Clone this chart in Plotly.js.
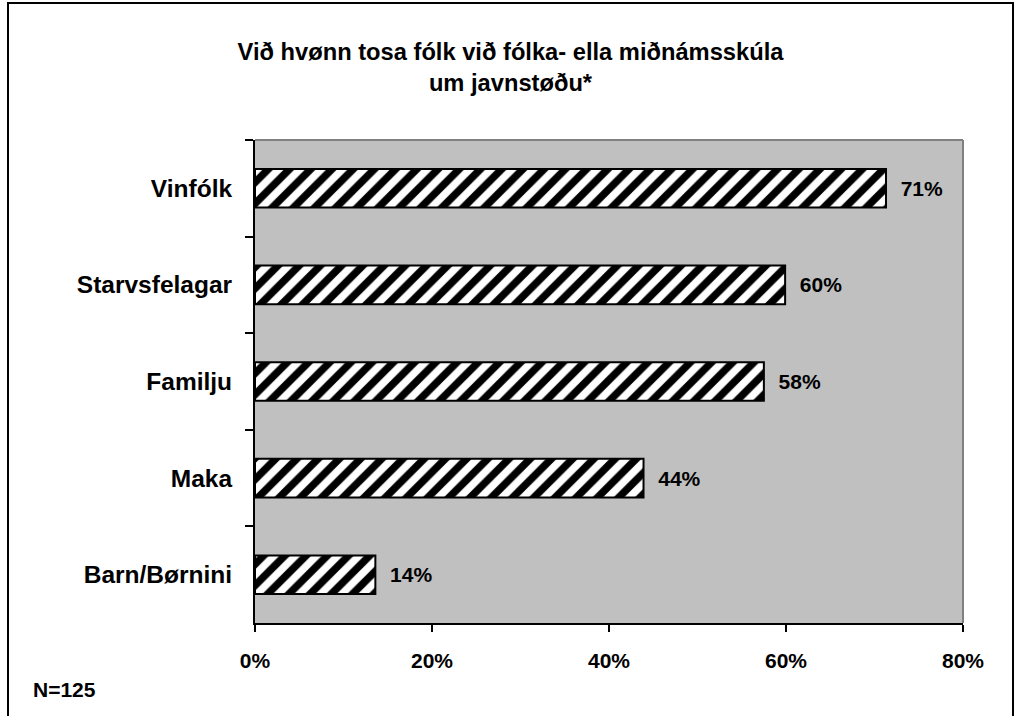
<!DOCTYPE html>
<html>
<head>
<meta charset="utf-8">
<script src="https://cdn.plot.ly/plotly-3.0.1.min.js"></script>
<style>
html,body{margin:0;padding:0;background:#fff;}
#wrap{position:relative;width:1021px;height:716px;}
#chart{width:1021px;height:716px;}
#frame{position:absolute;left:7px;top:2px;width:1003px;height:720px;border:2px solid #000;pointer-events:none;}
</style>
</head>
<body>
<div id="wrap">
<div id="chart"></div>
<div id="frame"></div>
</div>
<script>
const categories = ["Vinfólk", "Starvsfelagar", "Familju", "Maka", "Barn/Børnini"];
const values = [0.713, 0.599, 0.575, 0.439, 0.136];
const valueLabels = ["71%", "60%", "58%", "44%", "14%"];
const xTickVals = [0, 0.2, 0.4, 0.6, 0.8];
const xTickText = ["0%", "20%", "40%", "60%", "80%"];
const titleText = "Við hvønn tosa fólk við fólka- ella miðnámsskúla<br>um javnstøðu*";
const noteText = "N=125";

const font = "Liberation Sans, Arial, sans-serif";

const trace = {
  type: "bar",
  orientation: "h",
  y: categories,
  x: values,
  width: 0.4,
  text: valueLabels.map(t => "  " + t),
  textposition: "outside",
  textfont: {family: font, size: 21, color: "#000", weight: "bold"},
  cliponaxis: false,
  marker: {
    color: "#fff",
    line: {color: "#000", width: 2},
    pattern: {shape: "/", bgcolor: "#fff", fgcolor: "#000", fgopacity: 1, size: 15, solidity: 0.5, fillmode: "replace"}
  },
  hoverinfo: "none"
};

const layout = {
  width: 1021,
  height: 716,
  margin: {l: 255, r: 58, t: 140, b: 93},
  paper_bgcolor: "#fff",
  plot_bgcolor: "#C0C0C0",
  showlegend: false,
  title: {
    text: "<b>" + titleText + "</b>",
    font: {family: font, size: 23.7, color: "#000"},
    x: 0.5, xanchor: "center", xref: "container",
    y: 0.916, yanchor: "middle", yref: "container"
  },
  xaxis: {
    range: [0, 0.8],
    tickvals: xTickVals,
    ticktext: xTickText,
    ticks: "outside",
    ticklen: 7,
    tickwidth: 2,
    tickcolor: "#000",
    showline: true,
    linecolor: "#000",
    linewidth: 2,
    showgrid: false,
    zeroline: false,
    ticklabelstandoff: 11,
    tickfont: {family: font, size: 21, color: "#000", weight: "bold"},
    fixedrange: true
  },
  yaxis: {
    type: "category",
    categoryorder: "array",
    categoryarray: categories,
    autorange: "reversed",
    ticks: "outside",
    tickson: "boundaries",
    ticklen: 8,
    tickwidth: 2,
    tickcolor: "#000",
    showline: true,
    linecolor: "#000",
    linewidth: 2,
    showgrid: false,
    zeroline: false,
    ticklabelstandoff: 16,
    tickfont: {family: font, size: 24.5, color: "#000", weight: "bold"},
    fixedrange: true
  },
  shapes: [
    {type: "line", xref: "paper", yref: "paper", x0: 0, x1: 1, y0: 1, y1: 1, line: {color: "#808080", width: 2}},
    {type: "line", xref: "paper", yref: "paper", x0: 1, x1: 1, y0: 0, y1: 1, line: {color: "#808080", width: 2}}
  ],
  annotations: [
    {text: "<b>" + noteText + "</b>", xref: "paper", yref: "paper", x: -0.317, y: -0.138,
     xanchor: "left", yanchor: "middle", showarrow: false,
     font: {family: font, size: 21, color: "#000"}}
  ]
};

Plotly.newPlot("chart", [trace], layout, {displayModeBar: false, staticPlot: true});
</script>
</body>
</html>
